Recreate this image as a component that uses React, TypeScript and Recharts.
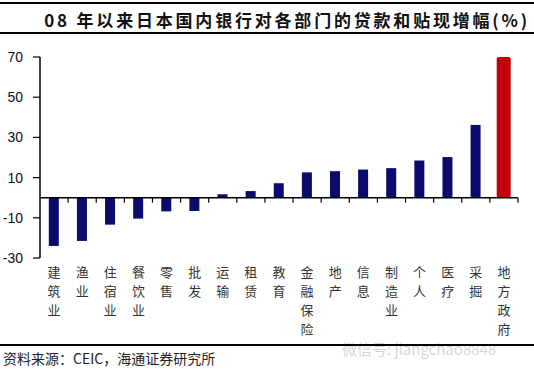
import React from "react";
import { BarChart, Bar, XAxis, YAxis, ReferenceLine } from "recharts";

const categories = [
  "建筑业", "渔业", "住宿业", "餐饮业", "零售", "批发", "运输", "租赁", "教育",
  "金融保险", "地产", "信息", "制造业", "个人", "医疗", "采掘", "地方政府",
];
const growth = [
  -24, -21.5, -13.4, -10.4, -6.8, -6.6, 1.7, 3.3, 7.2,
  12.6, 13.2, 14, 14.7, 18.5, 20.2, 36.2, 70,
];
const highlight = "地方政府";
const yTicks = [-30, -10, 10, 30, 50, 70];

const data = categories.map((name, i) => ({ name, value: growth[i] }));

const BLUE = "#0b0b6e";
const RED = "#c2000c";

const VerticalTick = (props: any) => {
  const { x, y, payload } = props;
  const chars = String(payload.value).split("");
  return (
    <text
      x={x}
      y={y}
      textAnchor="middle"
      fill="#333"
      fontSize={13}
      fontFamily="'Noto Sans CJK SC', sans-serif"
    >
      {chars.map((c, i) => (
        <tspan key={i} x={x} y={y + 19 + i * 19}>
          {c}
        </tspan>
      ))}
    </text>
  );
};

const BarShape = (props: any) => {
  const { x, y, width, height, payload } = props;
  const red = payload.name === highlight;
  const w = red ? 14 : 10;
  const cx = x + width / 2;
  const top = Math.min(y, y + height);
  const h = Math.abs(height);
  return (
    <rect
      x={cx - w / 2}
      y={top}
      width={w}
      height={h}
      rx={red ? 2 : 0}
      fill={red ? RED : BLUE}
    />
  );
};

const ZeroLine = (props: any) => {
  const { x1, y1, x2 } = props;
  const n = categories.length;
  const step = (x2 - x1) / n;
  return (
    <g>
      <line x1={x1} y1={y1} x2={x2} y2={y1} stroke="#000" strokeWidth={1.5} />
      {categories.map((_, i) => (
        <line
          key={i}
          x1={x1 + (i + 1) * step}
          x2={x1 + (i + 1) * step}
          y1={y1}
          y2={y1 + 5}
          stroke="#000"
          strokeWidth={1.2}
        />
      ))}
    </g>
  );
};

export default function App() {
  return (
    <div
      style={{
        position: "absolute",
        left: 0,
        top: 0,
        width: 534,
        height: 369,
        background: "#fff",
        overflow: "hidden",
        fontFamily: "'Noto Sans CJK SC', sans-serif",
      }}
    >
      <div style={{ position: "absolute", left: 0, top: 2, width: 534, height: 1.5, background: "#000" }} />
      <div
        style={{
          position: "absolute",
          right: 4,
          top: 8,
          fontSize: 17,
          fontWeight: "bold",
          letterSpacing: 2.8,
          color: "#111",
          whiteSpace: "nowrap",
          lineHeight: "24px",
        }}
      >
        08 年以来日本国内银行对各部门的贷款和贴现增幅(%)
      </div>
      <div style={{ position: "absolute", left: 0, top: 32, width: 534, height: 1.5, background: "#000" }} />

      <div style={{ position: "absolute", left: 0, top: 0 }}>
        <BarChart
          width={534}
          height={369}
          data={data}
          margin={{ top: 57, right: 16, left: 0, bottom: 21 }}
        >
          <XAxis
            dataKey="name"
            axisLine={false}
            tickLine={false}
            tickSize={0}
            tickMargin={0}
            interval={0}
            height={90}
            tick={<VerticalTick />}
          />
          <YAxis
            domain={[-30, 70]}
            ticks={yTicks}
            width={40}
            tickSize={7}
            tickMargin={10}
            axisLine={{ stroke: "#000", strokeWidth: 1.5 }}
            tickLine={{ stroke: "#000", strokeWidth: 1.2 }}
            tick={{ fill: "#111", fontSize: 14, fontFamily: "'Liberation Sans', Arial, sans-serif" }}
          />
          <Bar dataKey="value" isAnimationActive={false} shape={<BarShape />} />
          <ReferenceLine y={0} shape={<ZeroLine />} />
        </BarChart>
      </div>

      <div
        style={{
          position: "absolute",
          left: 342,
          top: 341,
          fontSize: 15,
          lineHeight: "15px",
          color: "#d6d6d6",
          whiteSpace: "nowrap",
        }}
      >
        微信号: jiangchao8848
      </div>
      <div style={{ position: "absolute", left: 0, top: 344, width: 534, height: 1.5, background: "#000" }} />
      <div
        style={{
          position: "absolute",
          left: 3,
          top: 350,
          fontSize: 14,
          color: "#222",
          whiteSpace: "nowrap",
          lineHeight: "16px",
        }}
      >
        资料来源：CEIC，海通证券研究所
      </div>
    </div>
  );
}
